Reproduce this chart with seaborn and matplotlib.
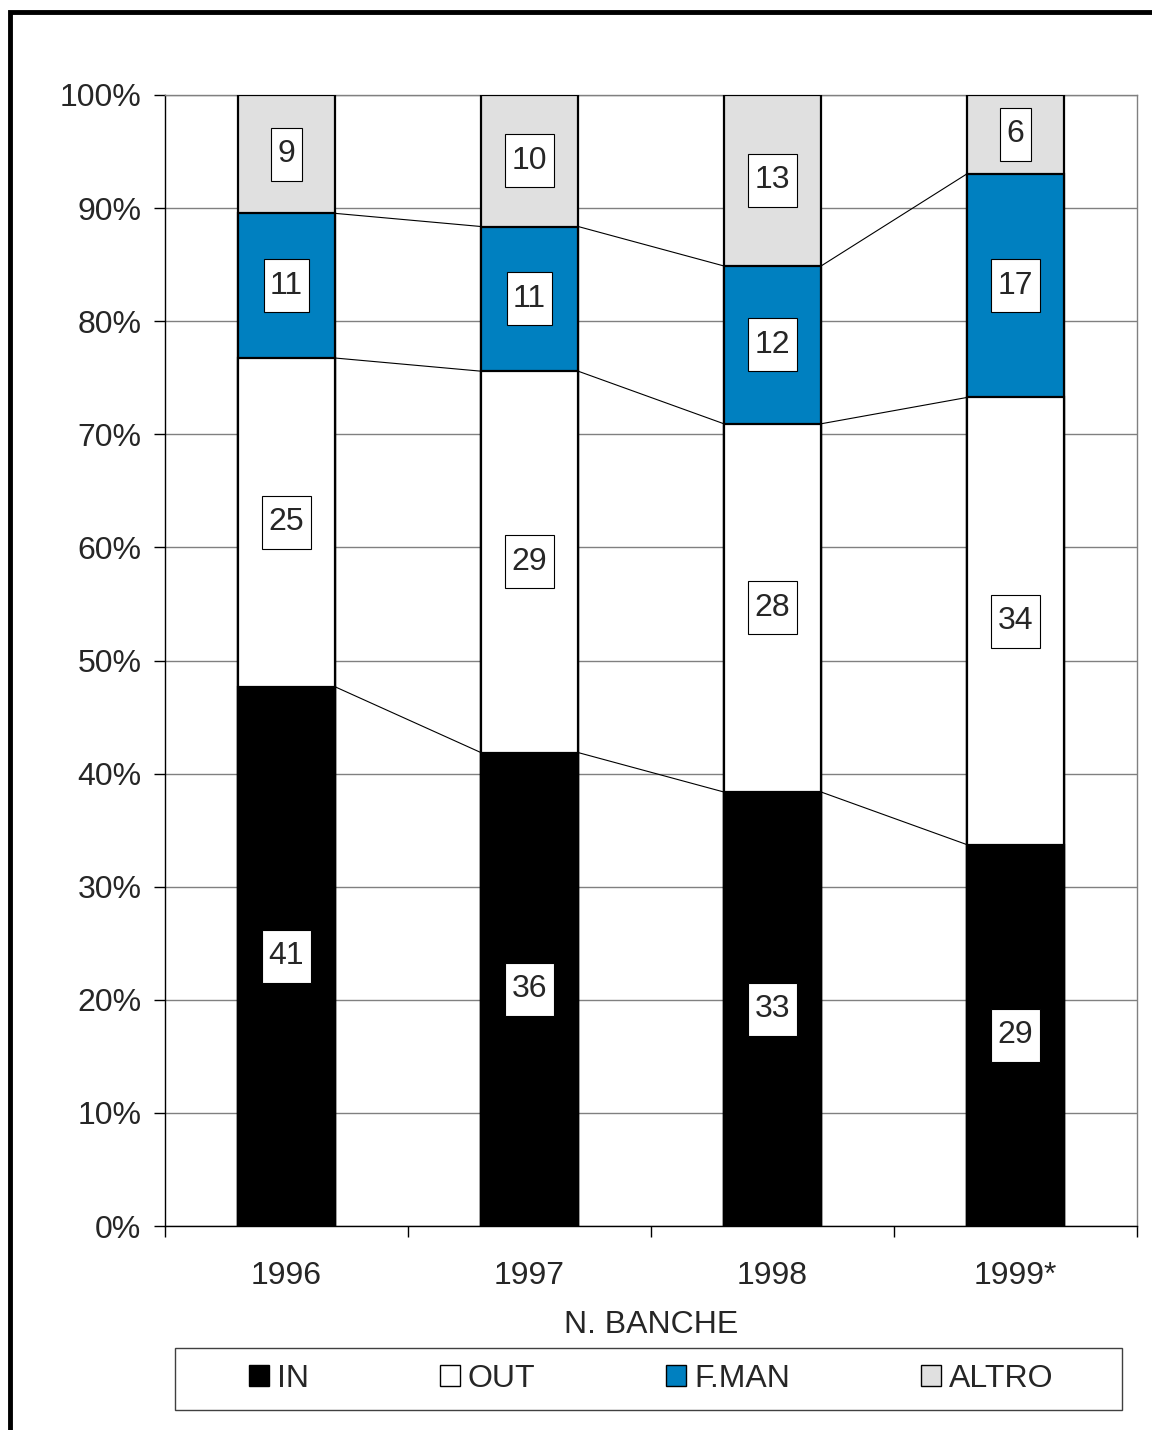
import matplotlib
matplotlib.use('Agg')
import matplotlib.pyplot as plt
import numpy as np
import pandas as pd
import seaborn as sns
from matplotlib.patches import Rectangle, Patch
from matplotlib.path import Path
from matplotlib.ticker import PercentFormatter, FixedLocator

# dati (numero di banche)
anni = ['1996', '1997', '1998', '1999*']
n_in = [41, 36, 33, 29]
n_out = [25, 29, 28, 34]
n_fman = [11, 11, 12, 17]
n_altro = [9, 10, 13, 6]
serie = ['IN', 'OUT', 'F.MAN', 'ALTRO']
colori = ['#000000', '#FFFFFF', '#0080C0', '#E0E0E0']

sns.set_style('white')
plt.rcParams['font.family'] = ['Liberation Sans', 'DejaVu Sans']

df = pd.DataFrame({'anno': anni, 'IN': n_in, 'OUT': n_out, 'F.MAN': n_fman, 'ALTRO': n_altro})
tot = df[serie].sum(axis=1)
perc = df[serie].div(tot, axis=0)
cum = perc.cumsum(axis=1)

fig = plt.figure(figsize=(11.52, 14.30), dpi=100)
ax = fig.add_axes([165/1152, 1 - 1226/1430, (1137-165)/1152, (1226-95)/1430])

# barre sovrapposte, dalla cima verso il basso
for s, c in reversed(list(zip(serie, colori))):
    sns.barplot(x=df['anno'], y=cum[s], color=c, saturation=1, width=0.4,
                edgecolor='black', linewidth=1.6, errorbar=None, ax=ax, zorder=3)

# linee di serie tra le barre
for s in serie[:-1]:
    for i in range(len(anni) - 1):
        ax.plot([i + 0.2, i + 0.8], [cum[s][i], cum[s][i + 1]], color='black', lw=0.8, zorder=2)


def label_box(x0, y0, width, height, mutation_size):
    px, py = 0.2 * mutation_size, 0.36 * mutation_size
    x0, y0 = x0 - px, y0 - py
    x1, y1 = x0 + width + 2 * px, y0 + height + 2 * py
    return Path([(x0, y0), (x1, y0), (x1, y1), (x0, y1), (x0, y0)], closed=True)


# etichette
for s in serie:
    mid = cum[s] - perc[s] / 2
    for i in range(len(anni)):
        ax.text(i, mid[i], str(df[s][i]), ha='center', va='center', fontsize=23, zorder=5,
                bbox=dict(boxstyle=label_box, facecolor='white', edgecolor='black', linewidth=0.8))

ax.set_xlim(-0.5, 3.5)
ax.set_ylim(0, 1)
ax.yaxis.set_major_locator(FixedLocator(np.arange(0, 1.01, 0.1)))
ax.yaxis.set_major_formatter(PercentFormatter(1.0, decimals=0))
ax.grid(axis='y', color='#808080', lw=1)
ax.set_axisbelow(True)

ax.set_xticks(np.arange(-0.5, 3.6, 1))
ax.set_xticklabels([])
ax.set_xticks(range(len(anni)), minor=True)
ax.set_xticklabels(anni, minor=True)
ax.tick_params(axis='x', which='major', direction='out', length=8, width=1, color='black', bottom=True)
ax.tick_params(axis='x', which='minor', length=0, pad=25, labelsize=23)
ax.tick_params(axis='y', direction='out', length=8, width=1, color='black', left=True, pad=9, labelsize=23)
ax.set_xlabel('N. BANCHE', fontsize=23, labelpad=14)
ax.set_ylabel('')

for side in ['left', 'bottom']:
    ax.spines[side].set_color('black')
    ax.spines[side].set_linewidth(1)
for side in ['right', 'top']:
    ax.spines[side].set_color('#808080')
    ax.spines[side].set_linewidth(1)

# legenda
handles = [Patch(facecolor=c, edgecolor='black', linewidth=1) for c in colori]
fig.legend(handles, serie, loc='center', bbox_to_anchor=(651/1152, 1 - 1379/1430), ncol=4,
           frameon=False, fontsize=23, handlelength=0.62, handleheight=0.62,
           handletextpad=0.25, columnspacing=4.1)
fig.add_artist(Rectangle((175/1152, 1 - 1410/1430), (1122-175)/1152, 62/1430,
                         transform=fig.transFigure, fill=False, edgecolor='#404040', lw=1))

# cornice esterna
fig.add_artist(Rectangle((10/1152, -0.2), 2, 1.2 - 12/1430, transform=fig.transFigure,
                         fill=False, edgecolor='black', lw=3.5))

fig.savefig('out.png', dpi=100)
